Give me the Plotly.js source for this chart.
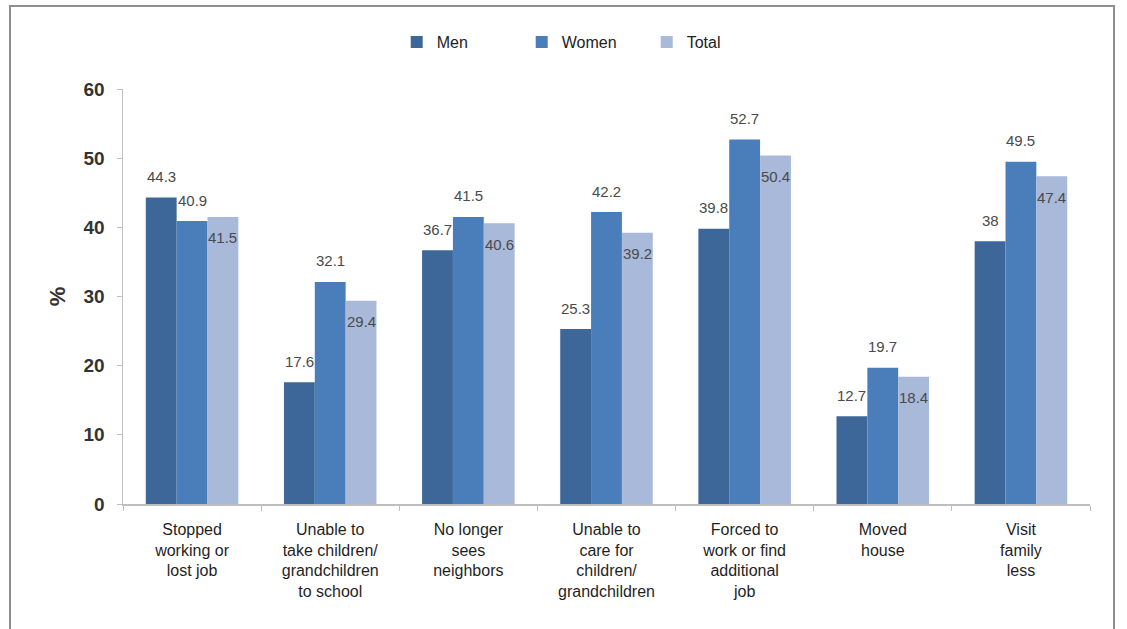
<!DOCTYPE html>
<html>
<head>
<meta charset="utf-8">
<script src="https://cdn.plot.ly/plotly-3.0.1.min.js"></script>
<style>
  html, body { margin: 0; padding: 0; background: #fff; overflow: hidden; }
  #frame { position: absolute; left: 9px; top: 5px; width: 1106px; height: 640px; border: 2px solid #8f8f8f; box-sizing: border-box; }
  #chart { position: absolute; left: 0; top: 0; width: 1127px; height: 629px; }
</style>
</head>
<body>
<div id="frame"></div>
<div id="chart"></div>
<script>
const categories = [
  "Stopped<br>working or<br>lost job",
  "Unable to<br>take children/<br>grandchildren<br>to school",
  "No longer<br>sees<br>neighbors",
  "Unable to<br>care for<br>children/<br>grandchildren",
  "Forced to<br>work or find<br>additional<br>job",
  "Moved<br>house",
  "Visit<br>family<br>less"
];
const men = [44.3, 17.6, 36.7, 25.3, 39.8, 12.7, 38];
const women = [40.9, 32.1, 41.5, 42.2, 52.7, 19.7, 49.5];
const total = [41.5, 29.4, 40.6, 39.2, 50.4, 18.4, 47.4];
const yTicks = [0, 10, 20, 30, 40, 50, 60];

const seriesNames = ["Men", "Women", "Total"];
const seriesValues = [men, women, total];
const seriesColors = ["#3D6799", "#4A7EBB", "#A8B9DA"];

const BARGAP = 0.33;
const barWidth = (1 - BARGAP) / seriesValues.length;

const traces = seriesValues.map((vals, s) => ({
  type: "bar", name: seriesNames[s], x: categories, y: vals,
  marker: { color: seriesColors[s] }
}));

// value labels: Men/Women above the bar, Total inside near the top
const labelFont = { family: "Arial, Liberation Sans, sans-serif", size: 15, color: "#4a4a4a" };
const annotations = [];
seriesValues.forEach((vals, s) => {
  const offset = (s - (seriesValues.length - 1) / 2) * barWidth;
  vals.forEach((v, i) => {
    annotations.push({
      x: i + offset, y: v, xref: "x", yref: "y",
      text: String(v), showarrow: false, font: labelFont,
      yanchor: "middle", yshift: s === 2 ? -21 : 21
    });
  });
});

const layout = {
  width: 1127, height: 629,
  margin: { l: 123, r: 37, t: 89, b: 125, pad: 0 },
  paper_bgcolor: "rgba(0,0,0,0)",
  plot_bgcolor: "rgba(0,0,0,0)",
  barmode: "group",
  bargap: BARGAP,
  bargroupgap: 0,
  font: { family: "Arial, Liberation Sans, sans-serif", color: "#222" },
  showlegend: true,
  legend: {
    orientation: "h", xref: "container", yref: "container",
    x: 0.352, xanchor: "left", y: 0.933, yanchor: "middle",
    font: { size: 16, color: "#222" },
    entrywidth: 80, entrywidthmode: "pixels",
    bgcolor: "rgba(0,0,0,0)"
  },
  annotations: annotations,
  xaxis: {
    type: "category",
    showgrid: false,
    showline: true, linecolor: "#bfbfbf", linewidth: 1.5,
    ticks: "outside", tickson: "boundaries", ticklen: 5, tickcolor: "#bfbfbf",
    ticklabelstandoff: 10,
    tickfont: { size: 16, color: "#1f1f1f" },
    zeroline: false
  },
  yaxis: {
    range: [0, 60],
    tickvals: yTicks,
    showgrid: false,
    showline: true, linecolor: "#bfbfbf", linewidth: 1.5,
    ticks: "outside", ticklen: 5, tickcolor: "#bfbfbf",
    ticklabelstandoff: 8,
    tickfont: { size: 19, color: "#333", weight: "bold" },
    zeroline: false,
    title: { text: "%", font: { size: 22, color: "#333", weight: "bold" }, standoff: 12 }
  }
};

Plotly.newPlot("chart", traces, layout, { displayModeBar: false, staticPlot: true });
</script>
</body>
</html>
